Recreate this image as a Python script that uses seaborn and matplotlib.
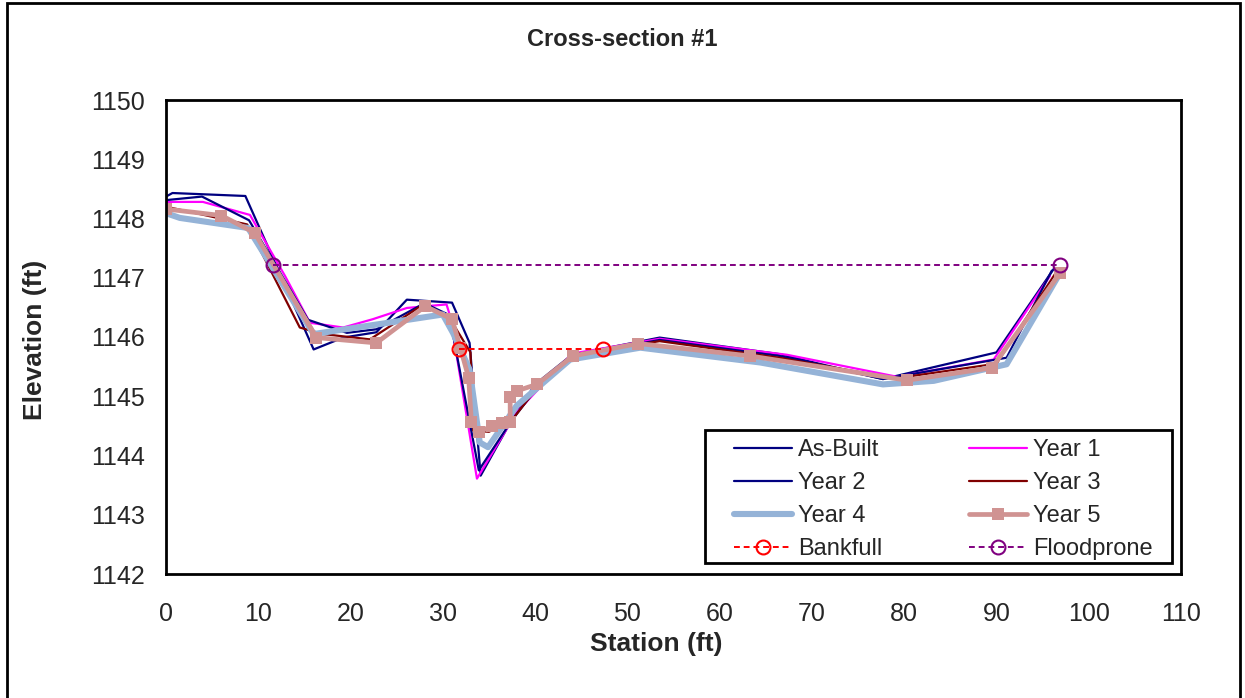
import matplotlib
matplotlib.use("Agg")
import matplotlib.pyplot as plt
import matplotlib.patches as mpatches
import seaborn as sns
import pandas as pd

# Surveyed cross-section #1: station (ft) and elevation (ft) per survey year
asbuilt_sta = [0.0, 0.7, 8.6, 16.0, 19.2, 22.8, 26.1, 31.0, 32.9, 34.1, 37.1, 40.0, 44.0, 53.5, 66.5, 77.7, 90.0, 96.3]
asbuilt_elev = [1148.37, 1148.43, 1148.38, 1145.79, 1145.99, 1146.08, 1146.63, 1146.58, 1145.90, 1143.66, 1144.50, 1145.20, 1145.70, 1145.99, 1145.71, 1145.29, 1145.74, 1147.17]

year1_sta = [0.0, 4.0, 9.1, 12.9, 15.6, 19.2, 22.4, 26.1, 30.4, 30.8, 33.7, 38.0, 44.0, 53.5, 67.3, 79.2, 89.7, 95.8]
year1_elev = [1148.28, 1148.28, 1148.06, 1147.03, 1146.24, 1146.16, 1146.30, 1146.49, 1146.55, 1146.35, 1143.61, 1144.73, 1145.72, 1145.97, 1145.70, 1145.33, 1145.62, 1147.03]

year2_sta = [0.0, 3.9, 9.0, 15.4, 19.6, 22.8, 28.0, 30.7, 33.9, 37.5, 40.5, 44.0, 53.5, 66.5, 77.7, 91.1, 96.0]
year2_elev = [1148.31, 1148.37, 1147.97, 1146.29, 1146.07, 1146.13, 1146.57, 1146.37, 1143.75, 1144.60, 1145.20, 1145.68, 1145.95, 1145.68, 1145.29, 1145.65, 1147.12]

year3_sta = [0.0, 8.8, 14.5, 17.0, 22.1, 27.9, 30.8, 33.0, 33.3, 35.0, 37.5, 40.5, 44.0, 53.5, 66.5, 79.0, 90.0, 96.5]
year3_elev = [1148.20, 1147.90, 1146.16, 1146.05, 1145.96, 1146.55, 1146.30, 1145.74, 1144.42, 1144.40, 1144.60, 1145.20, 1145.70, 1145.93, 1145.65, 1145.30, 1145.55, 1147.10]

year4_sta = [0.0, 1.5, 8.9, 16.0, 30.0, 31.1, 32.9, 33.7, 34.0, 34.9, 38.0, 43.8, 51.4, 64.4, 77.7, 83.2, 91.1, 96.7]
year4_elev = [1148.09, 1148.01, 1147.84, 1146.05, 1146.38, 1146.07, 1145.45, 1144.56, 1144.22, 1144.14, 1144.84, 1145.62, 1145.82, 1145.57, 1145.20, 1145.26, 1145.54, 1147.03]

year5_sta = [0.0, 6.0, 9.6, 16.3, 22.8, 28.1, 31.0, 31.9, 32.8, 33.1, 33.9, 35.3, 36.4, 37.3, 37.3, 38.0, 40.2, 44.1, 51.2, 63.3, 80.3, 89.5, 96.9]
year5_elev = [1148.16, 1148.05, 1147.76, 1145.99, 1145.90, 1146.52, 1146.30, 1145.82, 1145.31, 1144.56, 1144.39, 1144.50, 1144.55, 1144.56, 1144.98, 1145.09, 1145.20, 1145.68, 1145.89, 1145.68, 1145.27, 1145.48, 1147.08]

bankfull_sta = [31.8, 47.4]
bankfull_elev = [1145.80, 1145.80]

floodprone_sta = [11.6, 96.9]
floodprone_elev = [1147.22, 1147.22]

x_ticks = list(range(0, 111, 10))
y_ticks = list(range(1142, 1151, 1))

sns.set_style("white")
plt.rcParams["font.family"] = ["Liberation Sans", "DejaVu Sans"]

W, H = 1245, 698
fig = plt.figure(figsize=(W / 100, H / 100), dpi=100)
ax = fig.add_axes([166 / W, 1 - 574 / H, (1181 - 166) / W, (574 - 100) / H])

dash = (0, (3, 2))
series = [
    ("As-Built", asbuilt_sta, asbuilt_elev, dict(color="#000080", lw=1.6)),
    ("Year 1", year1_sta, year1_elev, dict(color="#FF00FF", lw=1.6)),
    ("Year 2", year2_sta, year2_elev, dict(color="#000080", lw=1.6)),
    ("Year 3", year3_sta, year3_elev, dict(color="#800000", lw=1.6)),
    ("Year 4", year4_sta, year4_elev, dict(color="#95B3D7", lw=4.4)),
    ("Year 5", year5_sta, year5_elev, dict(color="#D09392", lw=3.4, marker="s", markersize=8,
                                          markeredgewidth=0, markerfacecolor="#D09392")),
    ("Bankfull", bankfull_sta, bankfull_elev, dict(color="#FF0000", lw=1.4, marker="o", markersize=10,
                                                   markerfacecolor="none", markeredgecolor="#FF0000",
                                                   markeredgewidth=1.5)),
    ("Floodprone", floodprone_sta, floodprone_elev, dict(color="#800080", lw=1.4, marker="o", markersize=10,
                                                         markerfacecolor="none", markeredgecolor="#800080",
                                                         markeredgewidth=1.5)),
]

handles = {}
for name, sta, elev, style in series:
    df = pd.DataFrame({"Station": sta, "Elevation": elev})
    sns.lineplot(data=df, x="Station", y="Elevation", ax=ax, sort=False, estimator=None, label=name, **style)
    line = ax.get_lines()[-1]
    if name in ("Bankfull", "Floodprone"):
        line.set_linestyle(dash)
    handles[name] = line

ax.set_xlim(0, 110)
ax.set_ylim(1142, 1150)
ax.set_xticks(x_ticks)
ax.set_yticks(y_ticks)
ax.tick_params(axis="both", which="major", labelsize=18, direction="out", length=7, width=1, color="#808080")
ax.tick_params(axis="x", pad=13)
ax.tick_params(axis="y", pad=8)
for s in ax.spines.values():
    s.set_visible(True)
    s.set_color("black")
    s.set_linewidth(2)

ax.set_xlabel("")
ax.set_ylabel("")
fig.text(656 / W, 1 - 644 / H, "Station (ft)", fontsize=19, fontweight="bold", ha="center", va="center")
fig.text(35 / W, 1 - 340 / H, "Elevation (ft)", fontsize=19, fontweight="bold", ha="center", va="center",
         rotation=90)
fig.text(0.5, 1 - 39 / H, "Cross-section #1", fontsize=17, fontweight="bold", ha="center", va="center")

# legend box drawn separately so the entries can sit with a wide left margin
frame = mpatches.Rectangle((705 / W, 1 - 563 / H), (1172 - 705) / W, (563 - 430) / H,
                           transform=fig.transFigure, facecolor="white", edgecolor="black",
                           linewidth=2, zorder=4)
ax.add_artist(frame)
frame.set_clip_on(False)

order = ["As-Built", "Year 2", "Year 4", "Bankfull", "Year 1", "Year 3", "Year 5", "Floodprone"]
leg = ax.legend([handles[k] for k in order], order, ncol=2, loc="upper left",
                bbox_to_anchor=(734 / W, 1 - 439 / H), bbox_transform=fig.transFigure,
                fontsize=17, frameon=False, borderpad=0, labelspacing=0.47, handlelength=2.45,
                handletextpad=0.25, columnspacing=3.7, borderaxespad=0)
leg.set_zorder(5)

# chart border (bottom edge runs off the canvas)
fig.patches.append(mpatches.Rectangle((7 / W, -4 / H), 1233 / W, 699 / H,
                                      transform=fig.transFigure, fill=False,
                                      edgecolor="black", linewidth=2))

fig.savefig("out.png", dpi=100)
